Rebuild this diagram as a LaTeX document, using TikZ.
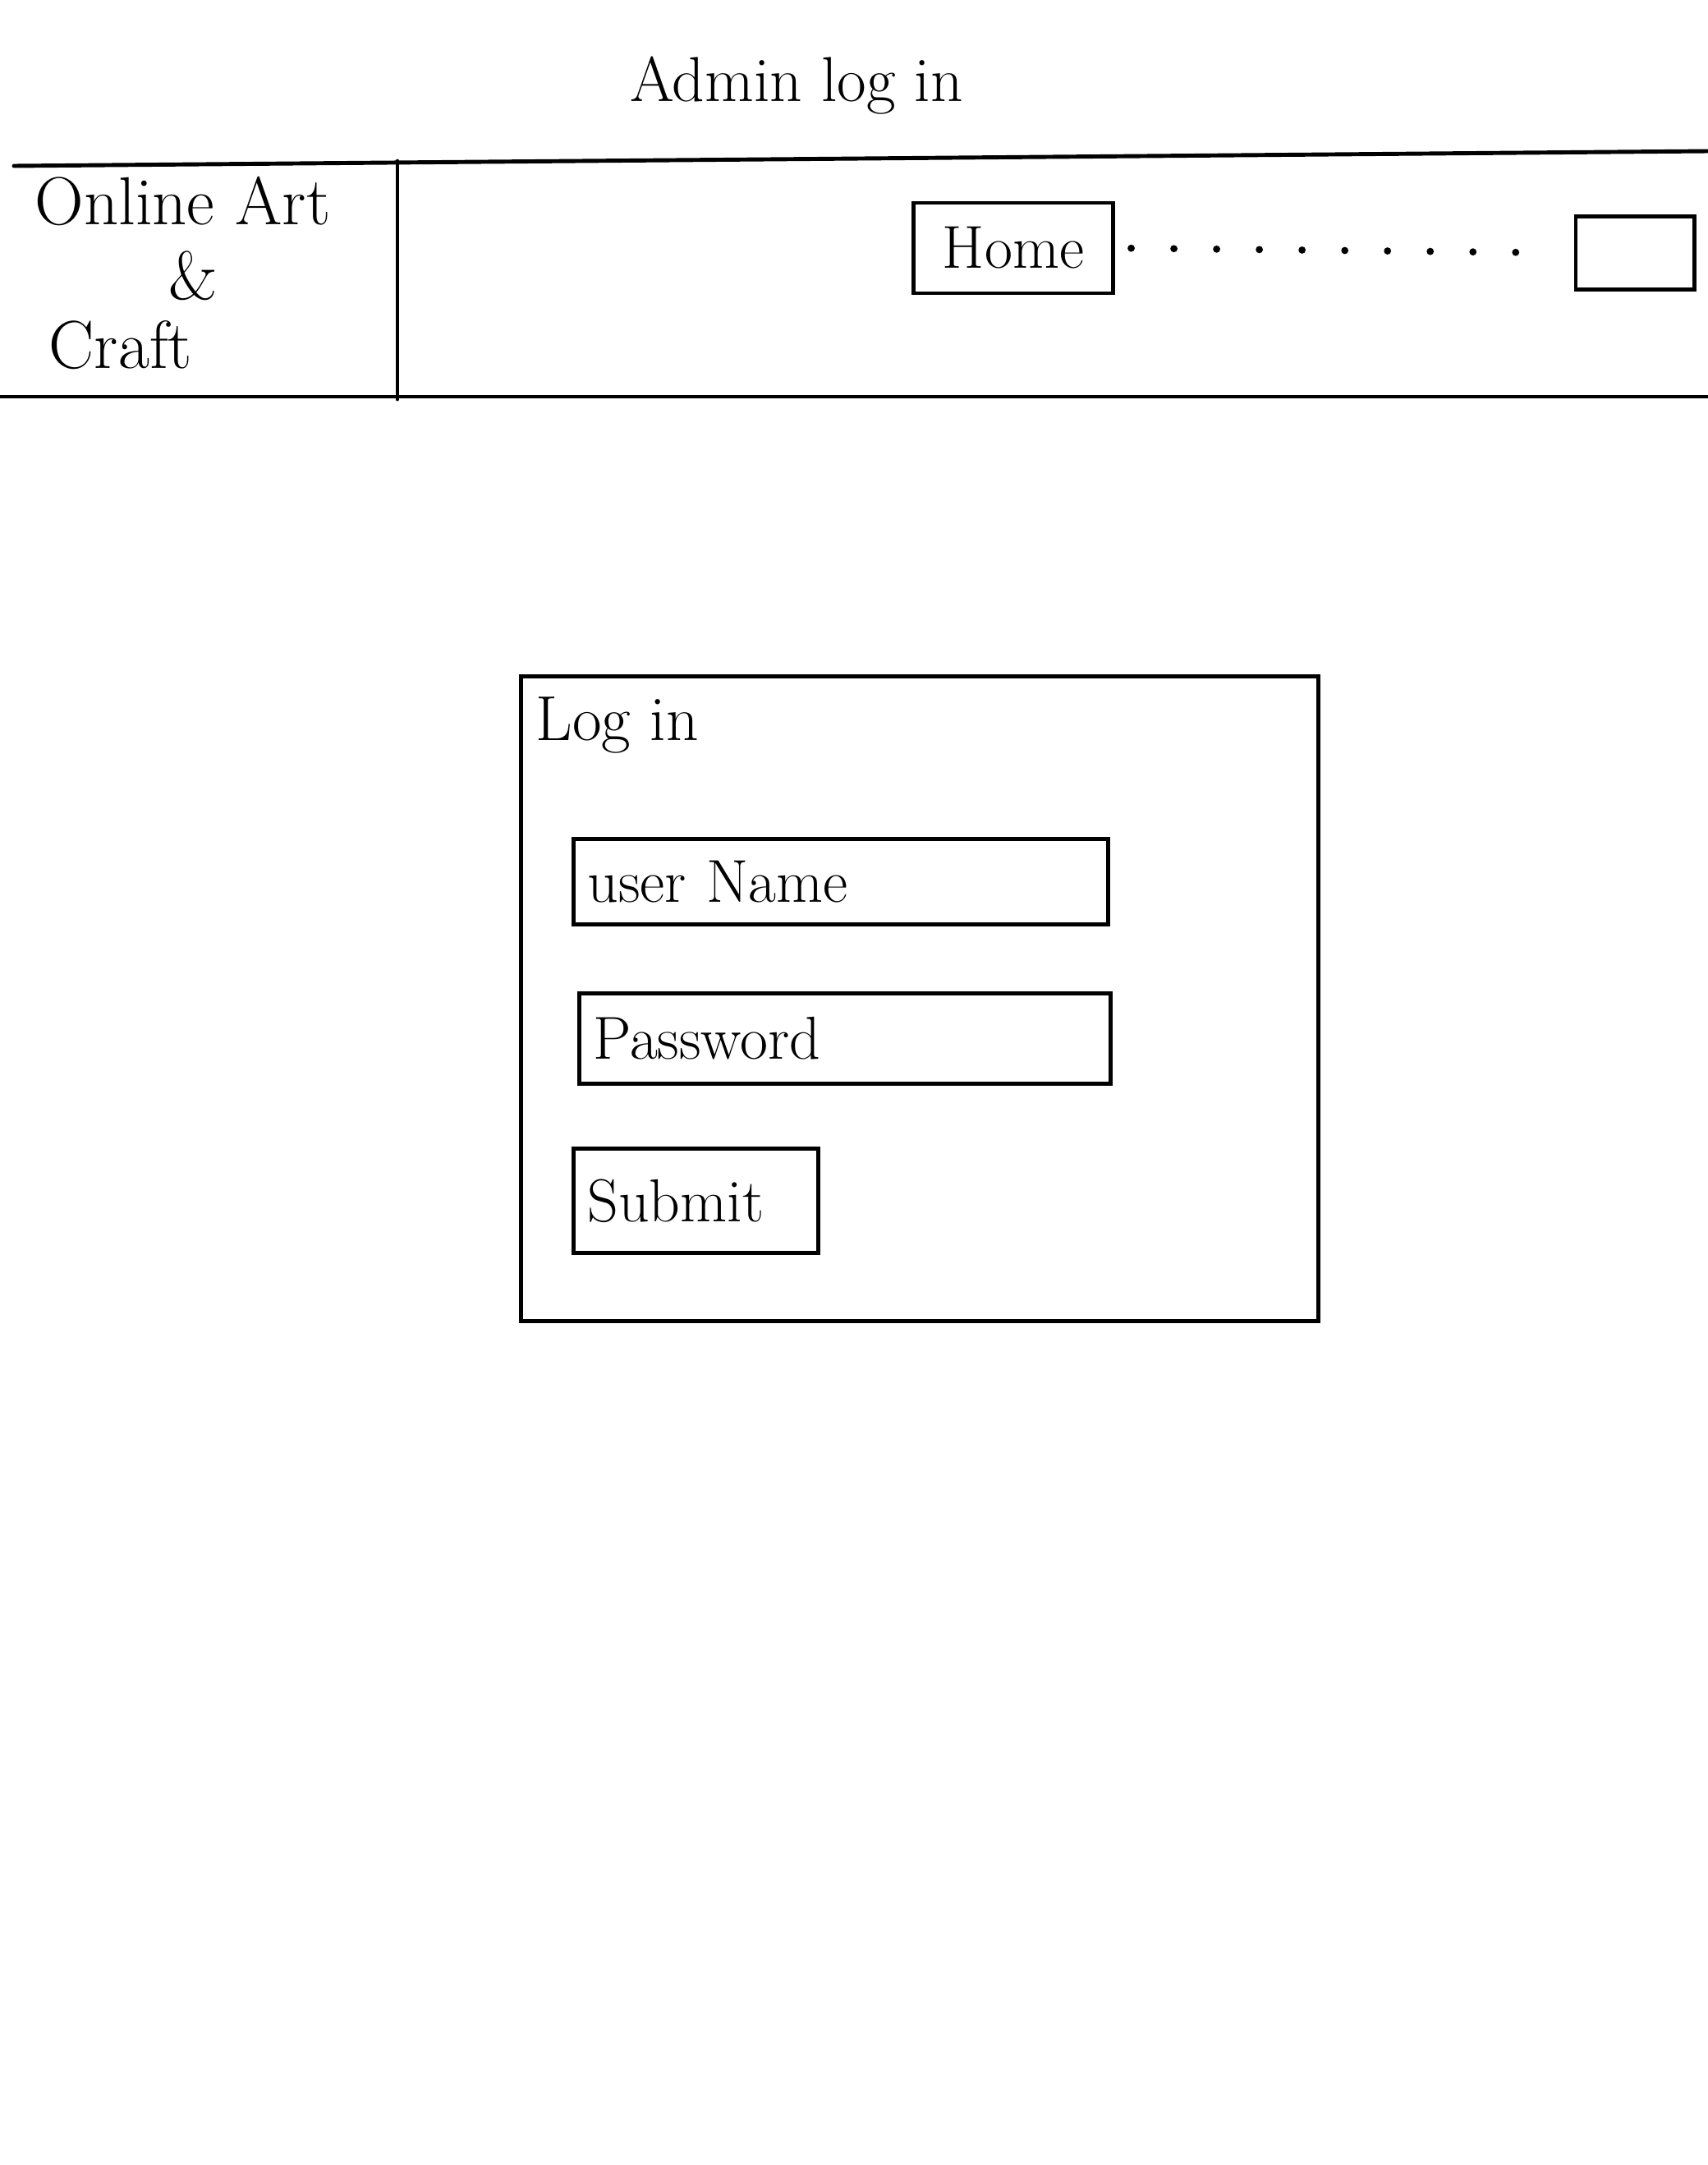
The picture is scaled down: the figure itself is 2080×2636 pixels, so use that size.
\documentclass[tikz,border=0pt]{standalone}
\usetikzlibrary{positioning}
\tikzset{
    box/.style={draw, line width=1.4pt, inner sep=0pt, font=\fontsize{21}{25}\selectfont},
    field/.style={draw, line width=1.4pt, anchor=north west, align=left, inner xsep=0.17cm, inner ysep=0pt, font=\fontsize{21}{25}\selectfont},
    sketchtext/.style={font=\fontsize{22}{26}\selectfont, inner sep=0pt},
    brand/.style={sketchtext, font=\fontsize{23.5}{28}\selectfont},
    edge/.style={line width=1.4pt, line cap=round}
}

\begin{document}
\begin{tikzpicture}[x=0.01cm, y=-0.01cm]
    \useasboundingbox (0,0) rectangle (2080,2636);

    % page title
    \node[sketchtext] (title) at (970,104) {Admin log in};

    % header bar
    \coordinate (tl) at (17,202); \coordinate (tr) at (2080,184);
    \coordinate (bl) at (0,483); \coordinate (br) at (2080,483);
    \coordinate (dt) at (484,196); \coordinate (db) at (484,486);
    \draw[edge] (tl) -- (tr);
    \draw[edge] (bl) -- (br);
    \draw[edge] (dt) -- (db);

    \node[brand, anchor=west] (brand1) at (42,245) {Online Art};
    \node[brand] (brand2) at (235,336) {\&};
    \node[brand, anchor=west] (brand3) at (59,420) {Craft};

    \node[box, minimum width=2.42cm, minimum height=1.10cm] (home) at (1234,302) {Home};
    \node[box, minimum width=1.44cm, minimum height=0.89cm] (menu) at (1991,308) {};
    \draw[line width=2.5pt, line cap=round, dash pattern=on 0pt off 0.52cm,
          shorten <=0.2cm, shorten >=0.3cm] (home.east) -- (menu.west);

    % log in panel
    \node[box, anchor=north west, minimum width=9.70cm, minimum height=7.85cm] (login) at (632,821) {};
    \node[sketchtext, anchor=west] (logintitle) at (652,883) {Log in};

    \node[field, text width=6.17cm, minimum height=1.04cm] (user) at (696,1019) {user Name};
    \node[field, text width=6.13cm, minimum height=1.10cm] (pass) at (703,1207) {Password};
    \node[field, text width=2.64cm, minimum height=1.27cm] (submit) at (696,1396) {Submit};
\end{tikzpicture}
\end{document}
